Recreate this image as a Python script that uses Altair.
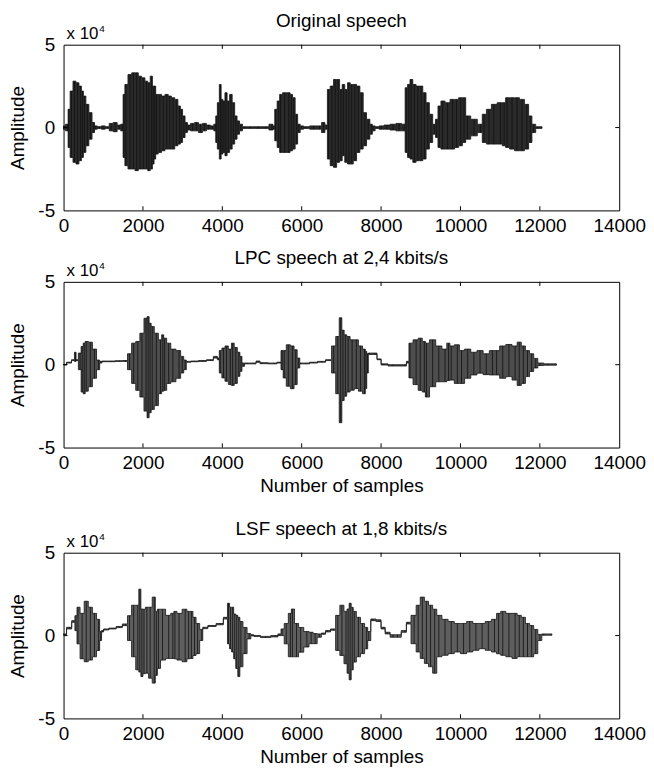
import altair as alt
import pandas as pd

# ---------------- data (amplitudes in units of 1e4) ----------------
orig_n = [0, 100, 130, 200, 275, 350, 425, 475, 525, 600, 675, 760, 800,
          900, 1000, 1100, 1200, 1300, 1400, 1480,
          1520, 1570, 1675, 1760, 1842, 1925, 2008, 2092, 2150, 2217, 2260, 2300, 2342, 2425,
          2510, 2600, 2675, 2760, 2842, 2920, 2967, 3030, 3092,
          3150, 3250, 3350, 3450, 3550, 3650, 3750, 3820,
          3850, 3900, 3950, 3990, 4040, 4092, 4150, 4217, 4280, 4342, 4400, 4467,
          4550, 4700, 4900, 5100, 5250, 5300,
          5342, 5420, 5467, 5570, 5675, 5740, 5800, 5870, 5925,
          6000, 6100, 6300, 6450, 6550, 6620,
          6675, 6760, 6842, 6920, 6990, 7050, 7120, 7190, 7258, 7340, 7425, 7508, 7592, 7675,
          7760, 7800,
          7900, 8000, 8150, 8300, 8450, 8580,
          8633, 8700, 8758, 8840, 8925, 9010, 9092, 9175, 9258, 9342,
          9400, 9467, 9550, 9675, 9800, 9900, 10008, 10090, 10175, 10342, 10508,
          10592, 10717, 10842, 11008, 11100, 11175, 11300, 11425, 11550, 11675, 11760, 11842,
          11950, 12050]
orig_top = [0.1, 0.2, 1.1, 2.2, 2.8, 2.7, 2.5, 2.2, 1.9, 1.4, 0.9, 0.3, 0.1,
            0.05, 0.1, 0.05, 0.25, 0.3, 0.15, 0.2,
            2.0, 2.6, 3.2, 3.3, 3.3, 3.1, 3.0, 2.8, 2.7, 3.1, 2.5, 2.5, 2.0, 2.0,
            1.9, 2.0, 1.9, 1.8, 1.7, 1.3, 1.1, 0.7, 0.3,
            0.15, 0.25, 0.3, 0.2, 0.25, 0.15, 0.1, 0.2,
            0.7, 1.5, 2.6, 1.7, 1.6, 2.1, 1.6, 2.0, 1.5, 0.7, 0.4, 0.2,
            0.05, 0.05, 0.05, 0.05, 0.2, 0.1,
            1.1, 1.6, 2.0, 2.1, 2.1, 2.0, 1.8, 0.8, 0.2,
            0.1, 0.05, 0.1, 0.1, 0.3, 0.15,
            2.3, 2.5, 2.9, 2.9, 2.3, 2.6, 2.3, 2.7, 2.6, 2.6, 2.5, 2.1, 0.9, 0.5,
            0.2, 0.1,
            0.05, 0.1, 0.15, 0.2, 0.25, 0.2,
            2.4, 2.6, 2.9, 2.6, 2.5, 2.5, 2.1, 1.5, 0.8, 0.2,
            0.5, 1.3, 1.6, 1.5, 1.7, 1.7, 1.8, 1.8, 0.7, 0.5, 0.2,
            0.8, 1.1, 1.4, 1.5, 1.5, 1.8, 1.8, 1.8, 1.7, 1.4, 0.7, 0.2,
            0.05, 0.05]
orig_bot = [-0.1, -0.2, -1.2, -1.8, -2.1, -2.2, -2.0, -1.8, -1.5, -1.1, -0.7, -0.3, -0.1,
            -0.05, -0.1, -0.05, -0.2, -0.25, -0.1, -0.2,
            -1.8, -2.3, -2.5, -2.5, -2.6, -2.5, -2.5, -2.5, -2.6, -2.5, -2.2, -1.9, -1.6, -1.5,
            -1.4, -1.3, -1.3, -1.3, -1.1, -1.0, -0.9, -0.6, -0.3,
            -0.15, -0.2, -0.2, -0.3, -0.2, -0.1, -0.1, -0.2,
            -0.9, -1.3, -1.9, -1.6, -1.5, -1.7, -1.5, -1.3, -1.0, -0.7, -0.4, -0.2,
            -0.05, -0.05, -0.05, -0.05, -0.15, -0.1,
            -0.8, -1.2, -1.5, -1.5, -1.5, -1.4, -1.3, -1.0, -0.3,
            -0.1, -0.05, -0.1, -0.1, -0.3, -0.1,
            -1.9, -2.3, -2.4, -2.1, -2.0, -1.7, -2.1, -2.2, -2.2, -2.0, -1.5, -1.3, -1.1, -0.7,
            -0.4, -0.2,
            -0.05, -0.1, -0.1, -0.15, -0.2, -0.2,
            -1.5, -1.8, -1.9, -2.1, -2.0, -2.0, -1.9, -1.3, -0.9, -0.4,
            -0.6, -1.2, -1.3, -1.3, -1.3, -1.2, -1.1, -0.9, -0.7, -0.5, -0.3,
            -0.9, -1.0, -1.0, -1.0, -1.1, -1.2, -1.3, -1.4, -1.4, -1.3, -0.9, -0.3,
            -0.05, -0.05]

lpc_n = [0, 150, 250, 300, 330,
         415, 470, 520, 571, 675, 779, 883, 935,
         1000, 1200, 1400, 1560,
         1662, 1766, 1870, 1974, 2078, 2130, 2180, 2234, 2338, 2442, 2500, 2546, 2649, 2753,
         2909, 2990, 3065, 3120,
         3300, 3500, 3700, 3850, 3900,
         3948, 4030, 4104, 4200, 4260, 4340, 4416, 4470, 4520,
         4600, 4800, 4900, 5000, 5300, 5450,
         5507, 5560, 5663, 5766, 5850, 5922, 5980,
         6100, 6300, 6500, 6700,
         6805, 6909, 6982, 7040, 7100, 7169, 7270, 7377, 7480, 7585, 7620, 7657,
         7700, 7845, 7950, 8052, 8300, 8600, 8676,
         8728, 8883, 8987, 9090, 9143, 9299, 9455, 9611, 9700, 9767, 9922, 10026, 10182,
         10338, 10494, 10650, 10806, 10910, 11065, 11221, 11377, 11481, 11585, 11689,
         11793, 11897, 12000,
         12200, 12415]
lpc_top = [0.02, 0.15, 0.3, 0.75, 0.3,
           0.7, 1.1, 1.3, 1.4, 1.36, 0.94, 0.28, 0.2,
           0.22, 0.22, 0.24, 0.25,
           0.66, 1.3, 1.4, 1.9, 2.8, 2.9, 2.5, 2.3, 1.9, 1.5, 1.8, 1.6, 1.3, 0.94,
           0.85, 0.5, 0.28, 0.2,
           0.22, 0.25, 0.3, 0.5, 0.4,
           0.85, 1.0, 1.13, 0.94, 1.3, 1.04, 0.75, 0.5, 0.1,
           0.1, 0.1, 0.22, 0.12, 0.1, 0.15,
           0.85, 0.85, 1.2, 1.13, 0.9, 0.4, 0.1,
           0.1, 0.15, 0.2, 0.3,
           1.13, 1.7, 2.83, 2.08, 1.8, 1.7, 1.5, 1.5, 1.13, 0.94, 0.8, 0.66,
           0.7, 0.7, 0.35, 0.05, 0.0, 0.0, 0.2,
           1.3, 1.5, 1.6, 1.4, 1.3, 1.5, 1.13, 0.94, 1.3, 1.13, 1.2, 0.85, 0.94,
           0.75, 0.85, 0.66, 0.85, 0.85, 1.13, 1.22, 1.13, 1.36, 1.13, 0.85,
           0.66, 0.38, 0.1,
           0.05, 0.05]
lpc_bot = [-0.02, 0.1, 0.25, 0.2, 0.25,
           -0.3, -1.65, -1.75, -1.6, -1.33, -0.82, -0.3, 0.1,
           0.18, 0.18, 0.2, 0.2,
           -0.3, -1.13, -1.55, -1.95, -2.8, -3.2, -2.9, -2.7, -2.47, -1.75, -1.6, -1.55, -1.13, -1.03,
           -0.82, -0.5, -0.3, 0.15,
           0.18, 0.2, 0.25, 0.4, 0.3,
           -0.5, -0.8, -1.0, -1.2, -1.25, -1.13, -0.7, -0.4, -0.1,
           0.05, 0.05, 0.15, 0.06, 0.05, 0.1,
           -0.3, -0.8, -1.3, -1.45, -1.2, -0.2, 0.05,
           0.05, 0.1, 0.15, 0.25,
           -0.5, -1.75, -3.5, -2.16, -1.9, -1.65, -1.54, -1.44, -1.6, -1.75, -1.44, -0.5,
           0.62, 0.62, 0.3, -0.02, -0.08, -0.08, 0.1,
           -0.8, -1.2, -1.55, -1.65, -1.95, -1.33, -1.03, -1.03, -0.95, -0.93, -1.13, -1.13, -0.82,
           -0.62, -0.51, -0.6, -0.62, -0.62, -0.82, -0.72, -0.93, -1.25, -1.13, -0.72,
           -0.41, -0.2, -0.05,
           -0.03, -0.03]

lsf_n = [0, 150, 260,
         312, 364, 468, 571, 675, 779, 883, 935,
         980, 1039, 1247, 1403, 1559,
         1662, 1766, 1870, 1922, 1974, 2026, 2100, 2182, 2286, 2338, 2390, 2494, 2649, 2753,
         2805, 2909, 3065, 3150, 3221, 3300, 3377, 3481,
         3533, 3740, 3948, 4104,
         4156, 4208, 4260, 4312, 4364, 4416, 4468, 4572, 4676,
         4760, 4831, 5091, 5351, 5450,
         5507, 5611, 5715, 5766, 5870, 5974, 6130, 6238, 6338, 6442,
         6550, 6650, 6800,
         6909, 7013, 7117, 7170, 7221, 7273, 7325, 7429, 7533, 7637, 7689,
         7793, 7949, 8050, 8156, 8300, 8416, 8600, 8676,
         8832, 8935, 9039, 9143, 9247, 9351, 9455, 9611, 9767, 9922, 10078, 10234, 10390,
         10546, 10702, 10858, 10961, 11065, 11221, 11377, 11481, 11585, 11689, 11793, 11897,
         12000,
         12100, 12300]
lsf_top = [0.1, 0.5, 0.9,
           1.2, 1.71, 1.34, 2.07, 1.71, 1.34, 0.98, 0.24,
           0.3, 0.4, 0.45, 0.55, 0.7,
           1.2, 1.83, 1.83, 2.8, 1.6, 1.59, 1.71, 1.71, 2.32, 1.46, 1.59, 1.59, 1.22, 1.34,
           1.46, 1.34, 1.59, 1.46, 1.46, 1.1, 0.73, 0.37,
           0.5, 0.61, 0.73, 1.1,
           1.95, 1.71, 1.71, 1.3, 1.22, 1.1, 0.85, 0.49, 0.12,
           0.05, 0.0, -0.05, 0.0, 0.1,
           0.4, 0.73, 1.34, 1.6, 0.73, 0.49, 0.24, 0.2, 0.12, 0.1,
           0.15, 0.3, 0.4,
           1.22, 1.83, 1.46, 1.6, 1.95, 1.7, 1.46, 1.1, 0.73, 0.49, 0.24,
           1.0, 0.95, 0.5, 0.2, 0.05, 0.05, 0.3, 0.8,
           1.22, 1.83, 2.32, 2.07, 1.83, 1.59, 1.22, 0.98, 0.85, 0.73, 0.73, 0.85, 0.73,
           0.73, 0.85, 0.98, 1.34, 1.46, 1.34, 1.34, 1.22, 1.1, 0.73, 0.61, 0.37,
           0.07,
           0.1, 0.1]
lsf_bot = [0.05, 0.4, 0.8,
           0.3, -0.5, -1.4, -1.58, -1.48, -1.28, -0.9, -0.3,
           0.22, 0.34, 0.4, 0.48, 0.6,
           -0.3, -1.28, -2.07, -2.2, -2.47, -2.3, -2.27, -2.57, -2.87, -2.4, -1.98, -1.48, -1.38, -1.38,
           -1.4, -1.48, -1.58, -1.4, -1.38, -1.2, -1.09, -0.3,
           0.42, 0.55, 0.65, 1.0,
           -0.5, -0.8, -0.99, -1.4, -1.98, -2.47, -1.88, -1.09, -0.2,
           -0.02, -0.05, -0.12, -0.08, 0.0,
           0.0, -0.5, -1.28, -1.28, -1.28, -1.0, -0.69, -0.49, -0.49, -0.1,
           0.08, 0.22, 0.32,
           -0.9, -1.2, -1.7, -2.27, -2.67, -2.07, -1.6, -1.28, -1.09, -0.8, -0.3,
           0.9, 0.85, 0.4, 0.1, -0.1, -0.1, 0.2, 0.7,
           -0.49, -0.99, -1.38, -1.68, -1.88, -2.27, -1.28, -1.19, -1.09, -0.99, -1.09, -0.99, -0.89,
           -0.79, -0.89, -0.99, -1.1, -1.19, -1.28, -1.38, -1.28, -1.28, -1.28, -1.28, -1.09,
           -0.3,
           0.02, 0.02]

titles = ["Original speech", "LPC speech at 2,4 kbits/s", "LSF speech at 1,8 kbits/s"]
x_title = "Number of samples"
y_title = "Amplitude"
x_ticks = [0, 2000, 4000, 6000, 8000, 10000, 12000, 14000]
y_ticks = [-5, 0, 5]
x_dom = [0, 14000]
y_dom = [-5, 5]

FONT = "Liberation Sans, Arial, sans-serif"
FS = 19
W, H = 560, 167


def panel(ns, tops, bots, title, fill, show_xtitle):
    df = pd.DataFrame({"n": ns, "top": tops, "bot": bots})
    xs = alt.Scale(domain=x_dom, nice=False, zero=False)
    ys = alt.Scale(domain=y_dom, nice=False)
    xaxis = alt.Axis(values=x_ticks, labelExpr="'' + datum.value", labelFlush=False,
                     title=x_title if show_xtitle else None)
    yaxis = alt.Axis(values=y_ticks, labelExpr="'' + datum.value", title=y_title)
    base = alt.Chart(df)
    area = base.mark_area(interpolate="step", fill=fill, stroke="#151515",
                          strokeWidth=0.8).encode(
        x=alt.X("n:Q", scale=xs, axis=xaxis),
        y=alt.Y("top:Q", scale=ys, axis=yaxis),
        y2="bot:Q",
    )
    lines = base.mark_rule(color="#111111", strokeWidth=0.8).encode(
        x=alt.X("n:Q", scale=xs), y=alt.Y("top:Q", scale=ys), y2="bot:Q"
    )
    # inward ticks like the original frame
    tb = pd.DataFrame({"n": x_ticks[1:-1] * 2,
                       "a": [y_dom[0]] * 6 + [y_dom[1]] * 6,
                       "b": [y_dom[0] + 0.25] * 6 + [y_dom[1] - 0.25] * 6})
    xt = alt.Chart(tb).mark_rule(color="black").encode(
        x=alt.X("n:Q", scale=xs), y=alt.Y("a:Q", scale=ys), y2="b:Q")
    lr = pd.DataFrame({"v": [0, 0], "a": [x_dom[0], x_dom[1]],
                       "b": [x_dom[0] + 100, x_dom[1] - 100]})
    yt = alt.Chart(lr).mark_rule(color="black").encode(
        y=alt.Y("v:Q", scale=ys), x=alt.X("a:Q", scale=xs), x2="b:Q")
    lab = pd.DataFrame({"n": [x_dom[0]], "v": [y_dom[1]]})
    t1 = alt.Chart(lab).mark_text(text="x 10", align="left", baseline="bottom",
                                  dx=3, dy=-2, font=FONT, fontSize=17,
                                  color="black").encode(
        x=alt.X("n:Q", scale=xs), y=alt.Y("v:Q", scale=ys))
    t2 = alt.Chart(lab).mark_text(text="4", align="left", baseline="bottom",
                                  dx=36, dy=-11, font=FONT, fontSize=10,
                                  color="black").encode(
        x=alt.X("n:Q", scale=xs), y=alt.Y("v:Q", scale=ys))
    return alt.layer(area, lines, xt, yt, t1, t2).properties(
        width=W, height=H,
        title=alt.TitleParams(title, font=FONT, fontSize=FS, fontWeight="normal",
                              color="black", offset=-7),
    )


p1 = panel(orig_n, orig_top, orig_bot, titles[0], "#2a2a2a", False)
p2 = panel(lpc_n, lpc_top, lpc_bot, titles[1], "#4d4d4d", True)
p3 = panel(lsf_n, lsf_top, lsf_bot, titles[2], "#5e5e5e", True)

top_pair = alt.vconcat(p1, p2, spacing=12)
chart = alt.vconcat(top_pair, p3, spacing=23).properties(padding=0).configure_view(
    stroke="black", strokeWidth=1
).configure_axis(
    grid=False, domain=False, ticks=False,
    labelFont=FONT, labelFontSize=FS, labelColor="black", labelPadding=6,
    titleFont=FONT, titleFontSize=FS, titleFontWeight="normal", titleColor="black",
).configure_axisY(labelPadding=9, titlePadding=10).configure_axisX(titlePadding=4)

chart.save("out.html", embed_options={"renderer": "svg", "actions": False})
